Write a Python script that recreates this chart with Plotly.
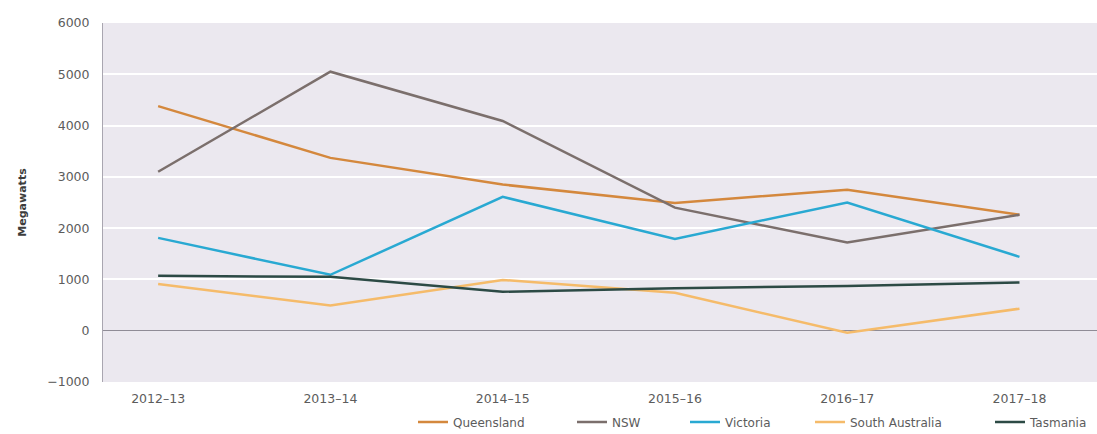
import plotly.graph_objects as go

years = ["2012–13", "2013–14", "2014–15", "2015–16", "2016–17", "2017–18"]

queensland = [4380, 3370, 2850, 2490, 2750, 2260]
nsw = [3100, 5050, 4090, 2400, 1720, 2260]
victoria = [1810, 1090, 2610, 1790, 2500, 1440]
south_australia = [910, 490, 990, 740, -40, 430]
tasmania = [1070, 1050, 760, 830, 870, 940]

series = [
    ("Queensland", queensland, "#d4883d"),
    ("NSW", nsw, "#7b6f6c"),
    ("Victoria", victoria, "#29a9d2"),
    ("South Australia", south_australia, "#f5bb6a"),
    ("Tasmania", tasmania, "#2c4a45"),
]

# pixel-based layout of the drawing area
W, H = 1097, 434
ML, MR, MT, MB = 103, 0, 23, 52
plot_w = W - ML - MR
plot_h = H - MT - MB

# left edge of each legend entry, in pixels
legend_px = [413, 572, 685, 810, 990]
legend_names = ["legend", "legend2", "legend3", "legend4", "legend5"]
legend_y_px = 422

FAMILY = "DejaVu Sans, Verdana, sans-serif"
TEXT = "#5c5c5c"

fig = go.Figure()
for (name, vals, color), lg in zip(series, legend_names):
    fig.add_trace(go.Scatter(
        x=years, y=vals, name=name, mode="lines",
        line=dict(color=color, width=2.5),
        legend=lg,
    ))

layout_legends = {}
for lg, px in zip(legend_names, legend_px):
    layout_legends[lg] = dict(
        x=(px - ML) / plot_w, xanchor="left",
        y=-(legend_y_px - (MT + plot_h)) / plot_h,
        yanchor="middle",
        orientation="h",
        bgcolor="rgba(0,0,0,0)",
        font=dict(family=FAMILY, size=12, color=TEXT),
        itemwidth=30,
    )

fig.update_layout(
    width=W, height=H,
    margin=dict(l=ML, r=MR, t=MT, b=MB, autoexpand=False),
    paper_bgcolor="white",
    plot_bgcolor="#ebe8ef",
    font=dict(family=FAMILY, size=12, color=TEXT),
    showlegend=True,
    **layout_legends,
)

fig.update_xaxes(
    type="category",
    range=[-0.32, 5.45],
    showgrid=False,
    showline=False,
    ticks="",
    tickfont=dict(family=FAMILY, size=12.5, color=TEXT),
    ticklabelstandoff=7,
)

fig.update_yaxes(
    range=[-1000, 6000],
    tickvals=[-1000, 0, 1000, 2000, 3000, 4000, 5000, 6000],
    ticktext=["−1000", "0", "1000", "2000", "3000", "4000", "5000", "6000"],
    showgrid=True, gridcolor="#ffffff", gridwidth=1.5,
    zeroline=True, zerolinecolor="#8f8c96", zerolinewidth=1,
    showline=True, linecolor="#a9a6b0", linewidth=1,
    ticks="", ticklabelstandoff=10,
    tickfont=dict(family=FAMILY, size=12.5, color=TEXT),
    title=dict(text="<b>Megawatts</b>", font=dict(family=FAMILY, size=11, color="#3c3c3c"),
               standoff=18),
)

fig.write_html("out.html")
